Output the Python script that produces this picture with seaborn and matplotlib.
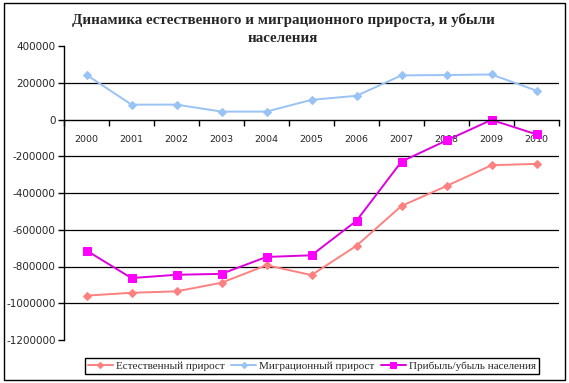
import matplotlib
matplotlib.use("Agg")
import matplotlib.pyplot as plt
import matplotlib.ticker as mtick
import pandas as pd
import seaborn as sns

years = ['2000', '2001', '2002', '2003', '2004', '2005', '2006', '2007', '2008', '2009', '2010']
natural = [-958500, -943100, -935300, -888500, -793000, -846600, -687100, -470300, -362000, -248900, -241400]
migration = [243000, 81000, 81000, 43000, 43000, 107000, 129000, 240000, 242000, 245000, 157000]
total = [-713000, -863000, -845000, -840000, -748000, -739000, -551000, -229000, -114000, -2000, -81000]
labels = ['Естественный прирост', 'Миграционный прирост', 'Прибыль/убыль населения']

df = pd.DataFrame({'year': range(len(years)), 'natural': natural,
                   'migration': migration, 'total': total})

sns.set_style("white")
fig = plt.figure(figsize=(5.69, 3.83), dpi=100)
ax = fig.add_axes([64/569, 1-340/383, 495/569, 294/383])

# series
sns.lineplot(x='year', y='natural', data=df, ax=ax, color='#ff8080', lw=1.4,
             marker='D', markersize=4.5, markeredgecolor='#ff8080', label=labels[0])
sns.lineplot(x='year', y='migration', data=df, ax=ax, color='#99c2f5', lw=1.4,
             marker='D', markersize=4.5, markeredgecolor='#99c2f5', label=labels[1])
sns.lineplot(x='year', y='total', data=df, ax=ax, color='#dd00dd', lw=1.4,
             marker='s', markersize=6, markerfacecolor='#ff00ff', markeredgecolor='#ff00ff',
             label=labels[2])

ax.set_xlim(-0.5, len(years) - 0.5)
ax.set_ylim(-1200000, 400000)
ax.set_xlabel('')
ax.set_ylabel('')

# y axis
ax.yaxis.set_major_locator(mtick.MultipleLocator(200000))
ax.yaxis.set_major_formatter(mtick.FuncFormatter(lambda v, p: '%d' % v))
ax.tick_params(axis='y', direction='out', length=4, width=1, color='black',
               labelsize=7.5, pad=2, left=True)
ax.grid(axis='y', color='black', lw=0.9)
for gl, v in zip(ax.get_ygridlines(), ax.get_yticks()):
    if v in (400000, -1200000, 0):
        gl.set_visible(False)

# category axis crossing at zero
ax.spines['bottom'].set_position(('data', 0))
ax.set_xticks([i - 0.5 for i in range(len(years) + 1)])
ax.set_xticklabels([])
ax.set_xticks(range(len(years)), minor=True)
ax.set_xticklabels(years, minor=True)
ax.tick_params(axis='x', which='major', direction='out', length=4, width=1,
               color='black', bottom=True)
ax.tick_params(axis='x', which='minor', length=0, labelsize=6.8, pad=11)

for s in ['top', 'right']:
    ax.spines[s].set_visible(False)
for s in ['left', 'bottom']:
    ax.spines[s].set_color('black')
    ax.spines[s].set_linewidth(1)

ax.get_legend().remove()
handles, _ = ax.get_legend_handles_labels()
fig.legend(handles, labels, loc='center', bbox_to_anchor=(312/569, 1-366/383), ncol=3,
           frameon=True, fancybox=False, edgecolor='black', framealpha=1,
           prop={'family': 'Liberation Serif', 'size': 8}, handlelength=2.2,
           handletextpad=0.3, columnspacing=0.6, borderpad=0.3, markerscale=0.7)

fig.text(283/569, 1-20/383, 'Динамика естественного и миграционного прироста, и убыли',
         ha='center', va='center', family='Liberation Serif', weight='bold', size=10.8)
fig.text(283/569, 1-39/383, 'населения', ha='center', va='center',
         family='Liberation Serif', weight='bold', size=10.8)

fig.add_artist(plt.Rectangle((4/569, 3/383), 561/569, 377/383, transform=fig.transFigure,
                             fill=False, ec='black', lw=1))

fig.savefig('out.png', dpi=100)
